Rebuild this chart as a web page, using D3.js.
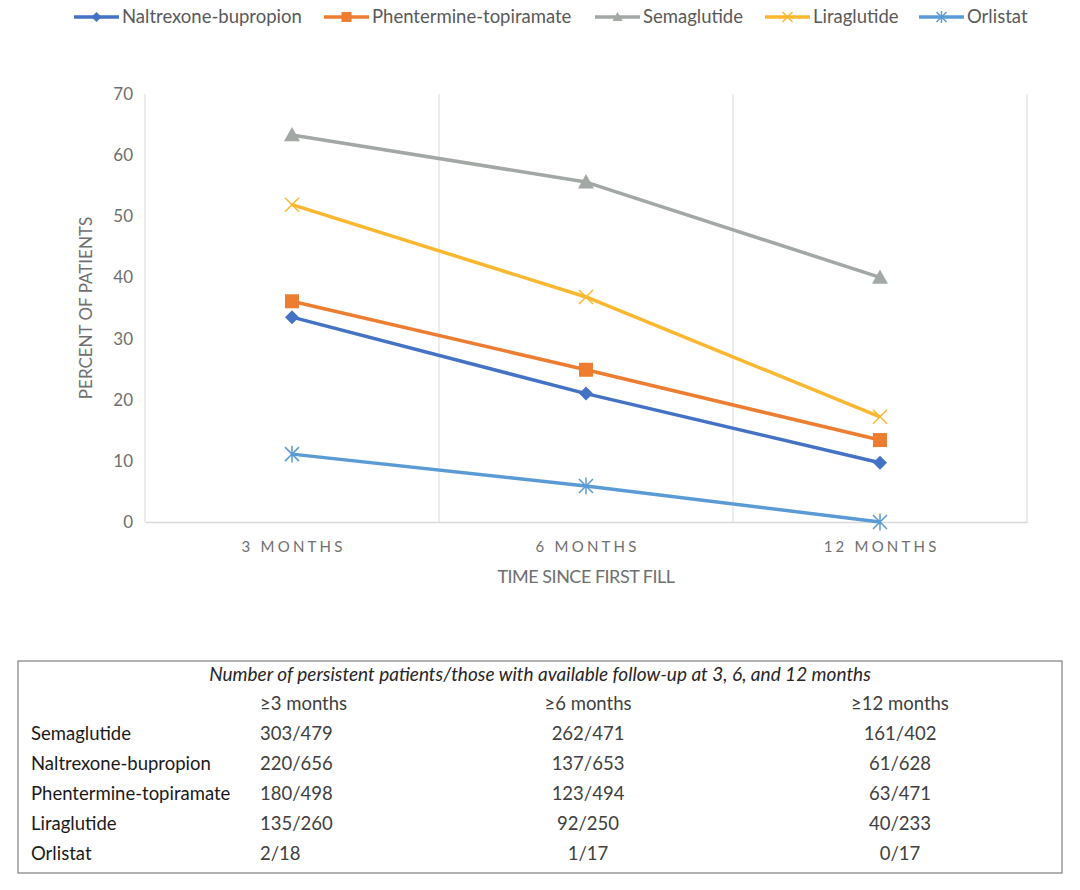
<!DOCTYPE html>
<html>
<head>
    <meta charset="utf-8">
    <title>Persistence chart</title>
    <script src="https://d3js.org/d3.v7.min.js"></script>
    <style>
        body { margin: 0; background: #fff; }
        text { font-family: Lato, "Open Sans", sans-serif; }
    </style>
</head>
<body>
    <svg width="1080" height="890" id="chart"></svg>
    <script>
        // data
        const timepoints = ["3 MONTHS", "6 MONTHS", "12 MONTHS"]
        const drugs = ["Naltrexone-bupropion", "Phentermine-topiramate", "Semaglutide", "Liraglutide", "Orlistat"]
        const naltrexone = [33.5, 21.0, 9.7]
        const phentermine = [36.1, 24.9, 13.4]
        const semaglutide = [63.3, 55.6, 40.0]
        const liraglutide = [51.9, 36.8, 17.2]
        const orlistat = [11.1, 5.9, 0]
        const yTicks = [0, 10, 20, 30, 40, 50, 60, 70]

        const tableTitle = "Number of persistent patients/those with available follow-up at 3, 6, and 12 months"
        const tableHeaders = ["\u22653 months", "\u22656 months", "\u226512 months"]
        const tableRows = ["Semaglutide", "Naltrexone-bupropion", "Phentermine-topiramate", "Liraglutide", "Orlistat"]
        const tableValues = [
            ["303/479", "262/471", "161/402"],
            ["220/656", "137/653", "61/628"],
            ["180/498", "123/494", "63/471"],
            ["135/260", "92/250", "40/233"],
            ["2/18", "1/17", "0/17"]
        ]

        const series = [
            { name: drugs[0], values: naltrexone, color: "#4472C4", marker: "diamond" },
            { name: drugs[1], values: phentermine, color: "#ED7D31", marker: "square" },
            { name: drugs[2], values: semaglutide, color: "#A2A8A4", marker: "triangle" },
            { name: drugs[3], values: liraglutide, color: "#FBB72F", marker: "x" },
            { name: drugs[4], values: orlistat, color: "#5B9BD5", marker: "star" }
        ]

        const svg = d3.select("#chart")
        const margin = { top: 94, bottom: 368, left: 145, right: 53 }
        const width = +svg.attr("width")
        const height = +svg.attr("height")

        const xScale = d3.scaleBand()
            .domain(timepoints)
            .range([margin.left, width - margin.right])

        const yScale = d3.scaleLinear()
            .domain([0, 70])
            .range([height - margin.bottom, margin.top])

        const axisGrey = "#6f6f6f"

        // vertical grid lines at category boundaries
        const bounds = timepoints.map(d => xScale(d)).concat([xScale.range()[1]])
        svg.append("g").selectAll("line")
            .data(bounds)
            .enter()
            .append("line")
            .attr("x1", d => d).attr("x2", d => d)
            .attr("y1", yScale(70)).attr("y2", yScale(0))
            .attr("stroke", "#d9d9d9")
            .attr("stroke-width", 1)

        // y axis
        const yAxis = d3.axisLeft(yScale).tickValues(yTicks).tickSize(0).tickPadding(0)
        const gy = svg.append("g")
            .attr("transform", `translate(${margin.left - 12},0)`)
            .call(yAxis)
        gy.select(".domain").remove()
        gy.selectAll("text")
            .attr("fill", axisGrey)
            .style("font-size", "17px")
            .style("font-family", "Lato, sans-serif")

        // x axis
        const xAxis = d3.axisBottom(xScale).tickSize(0).tickPadding(0)
        const gx = svg.append("g")
            .attr("transform", `translate(0,${yScale(0)})`)
            .call(xAxis)
        gx.select(".domain").attr("stroke", "#d9d9d9").attr("stroke-width", 1.5)
        gx.selectAll("text")
            .attr("fill", axisGrey)
            .attr("dy", "30")
            .attr("dx", "1.6")
            .style("font-size", "15px")
            .style("letter-spacing", "3.2px")
            .style("font-family", "Lato, sans-serif")

        svg.append("text")
            .attr("x", (margin.left + width - margin.right) / 2)
            .attr("y", 583)
            .attr("text-anchor", "middle")
            .attr("fill", axisGrey)
            .style("font-size", "18px")
            .style("letter-spacing", "-0.5px")
            .text("TIME SINCE FIRST FILL")

        svg.append("text")
            .attr("transform", `translate(92,${(yScale(0) + yScale(70)) / 2}) rotate(-90)`)
            .attr("text-anchor", "middle")
            .attr("fill", axisGrey)
            .style("font-size", "17px")
            .text("PERCENT OF PATIENTS")

        const cx = i => xScale(timepoints[i]) + xScale.bandwidth() / 2

        function drawMarker(g, type, x, y, color, s) {
            if (type === "diamond") {
                g.append("path")
                    .attr("d", `M${x},${y - s}L${x + s},${y}L${x},${y + s}L${x - s},${y}Z`)
                    .attr("fill", color)
            } else if (type === "square") {
                g.append("rect")
                    .attr("x", x - s).attr("y", y - s)
                    .attr("width", 2 * s).attr("height", 2 * s)
                    .attr("fill", color)
            } else if (type === "triangle") {
                g.append("path")
                    .attr("d", `M${x},${y - s}L${x + s},${y + s * 0.8}L${x - s},${y + s * 0.8}Z`)
                    .attr("fill", color)
            } else if (type === "x") {
                g.append("path")
                    .attr("d", `M${x - s},${y - s}L${x + s},${y + s}M${x - s},${y + s}L${x + s},${y - s}`)
                    .attr("stroke", color).attr("stroke-width", 1.5).attr("fill", "none")
            } else if (type === "star") {
                g.append("path")
                    .attr("d", `M${x - s},${y - s}L${x + s},${y + s}M${x - s},${y + s}L${x + s},${y - s}M${x},${y - s * 1.2}L${x},${y + s * 1.2}`)
                    .attr("stroke", color).attr("stroke-width", 1.5).attr("fill", "none")
            }
        }

        const line = d3.line()
            .x((d, i) => cx(i))
            .y(d => yScale(d))

        series.forEach(s => {
            const g = svg.append("g")
            g.append("path")
                .datum(s.values)
                .attr("d", line)
                .attr("fill", "none")
                .attr("stroke", s.color)
                .attr("stroke-width", 3.5)
                .attr("stroke-linejoin", "round")
            s.values.forEach((v, i) => drawMarker(g, s.marker, cx(i), yScale(v), s.color, s.marker === "triangle" ? 8 : 7))
        })

        // legend
        const legendX = [74, 324, 595, 765, 919]
        const legend = svg.append("g")
        series.forEach((s, i) => {
            const lg = legend.append("g")
            lg.append("line")
                .attr("x1", legendX[i]).attr("x2", legendX[i] + 45)
                .attr("y1", 17).attr("y2", 17)
                .attr("stroke", s.color).attr("stroke-width", 3.5)
            drawMarker(lg, s.marker, legendX[i] + 22.5, 17, s.color, 5)
            lg.append("text")
                .attr("x", legendX[i] + 48)
                .attr("y", 17)
                .attr("dy", "0.35em")
                .attr("fill", "#595959")
                .style("font-size", "18.5px")
                .text(s.name)
        })

        // table below the chart
        const table = svg.append("g")
        table.append("rect")
            .attr("x", 18).attr("y", 661)
            .attr("width", 1044).attr("height", 212)
            .attr("fill", "none")
            .attr("stroke", "#7f7f7f")
            .attr("stroke-width", 1.2)

        table.append("text")
            .attr("x", 540).attr("y", 681)
            .attr("text-anchor", "middle")
            .style("font-size", "19px")
            .style("font-style", "italic")
            .attr("fill", "#262626")
            .text(tableTitle)

        const colX = [260, 588, 900]
        const colAnchor = ["start", "middle", "middle"]
        tableHeaders.forEach((h, j) => {
            table.append("text")
                .attr("x", colX[j]).attr("y", 710)
                .attr("text-anchor", colAnchor[j])
                .style("font-size", "18.5px")
                .attr("fill", "#404040")
                .text(h)
        })

        tableRows.forEach((r, i) => {
            const y = 740 + i * 30
            table.append("text")
                .attr("x", 31).attr("y", y)
                .style("font-size", "18.5px")
                .attr("fill", "#1a1a1a")
                .text(r)
            tableValues[i].forEach((v, j) => {
                table.append("text")
                    .attr("x", colX[j]).attr("y", y)
                    .attr("text-anchor", colAnchor[j])
                    .style("font-size", "18.5px")
                    .attr("fill", "#404040")
                    .text(v)
            })
        })
    </script>
</body>
</html>
